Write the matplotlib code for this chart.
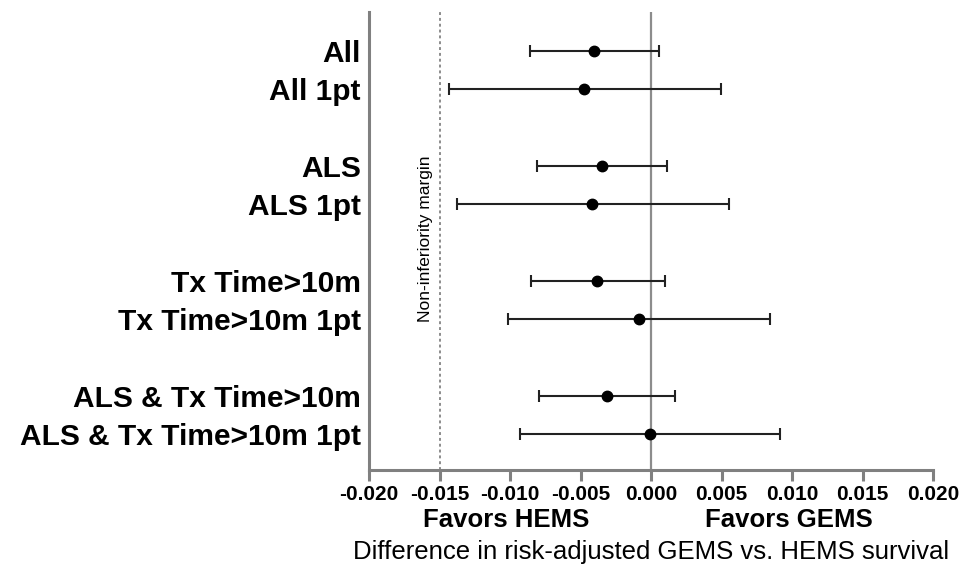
import matplotlib
matplotlib.use("Agg")
import matplotlib.pyplot as plt

plt.rcParams['font.family'] = ['Liberation Sans', 'DejaVu Sans']

# subgroups, estimates and 95% CI (difference in survival)
labels = ["All", "All 1pt", "ALS", "ALS 1pt",
          "Tx Time>10m", "Tx Time>10m 1pt",
          "ALS & Tx Time>10m", "ALS & Tx Time>10m 1pt"]
est = [-0.00407, -0.00473, -0.00350, -0.00421, -0.00382, -0.00087, -0.00313, -0.00009]
lo = [-0.00857, -0.01435, -0.00810, -0.01373, -0.00850, -0.01011, -0.00796, -0.00928]
hi = [0.00054, 0.00498, 0.00116, 0.00551, 0.00099, 0.00846, 0.00172, 0.00917]
margin = -0.015
xticks = [-0.020, -0.015, -0.010, -0.005, 0.000, 0.005, 0.010, 0.015, 0.020]

# two rows per group, one empty row between groups
ypos = [i + i // 2 for i in range(len(labels))]

fig = plt.figure(figsize=(9.67, 5.68), dpi=100)
ax = fig.add_axes([0.3816, 0.1725, 0.5833, 0.8064])

ax.axvline(0, color='#8c8c8c', lw=1.6, zorder=1)
ax.axvline(margin, color='#8c8c8c', lw=1.4, ls=(0, (1.5, 1.5)), zorder=1)

xerr = [[e - l for e, l in zip(est, lo)], [h - e for e, h in zip(est, hi)]]
ax.errorbar(est, ypos, xerr=xerr, fmt='o', color='black', ecolor='#222222',
            elinewidth=1.5, capsize=4.5, capthick=1.5, markersize=7.5, zorder=3)

ax.text(margin - 0.0010, 4.9, "Non-inferiority margin", rotation=90,
        ha='center', va='center', fontsize=12.5)

ax.set_xlim(-0.020, 0.020)
ax.set_ylim(10.94, -1.02)
ax.set_xticks(xticks)
ax.set_xticklabels([f"{t:.3f}" for t in xticks], fontsize=15, fontweight='bold')
ax.set_yticks(ypos)
ax.set_yticklabels(labels, fontsize=21.5, fontweight='bold')
ax.tick_params(axis='y', length=0, pad=6)
ax.tick_params(axis='x', length=8, width=2.2, color='#808080', pad=3)

for s in ['top', 'right']:
    ax.spines[s].set_visible(False)
for s in ['left', 'bottom']:
    ax.spines[s].set_color('#808080')
    ax.spines[s].set_linewidth(2.2)

trans = ax.get_xaxis_transform()
ax.text(-0.0103, -0.110, "Favors HEMS", transform=trans, ha='center', va='center',
        fontsize=18.5, fontweight='bold')
ax.text(0.0098, -0.110, "Favors GEMS", transform=trans, ha='center', va='center',
        fontsize=18.5, fontweight='bold')
ax.text(0.0, -0.179, "Difference in risk-adjusted GEMS vs. HEMS survival",
        transform=trans, ha='center', va='center', fontsize=18.5)

fig.savefig("out.png", dpi=100)
